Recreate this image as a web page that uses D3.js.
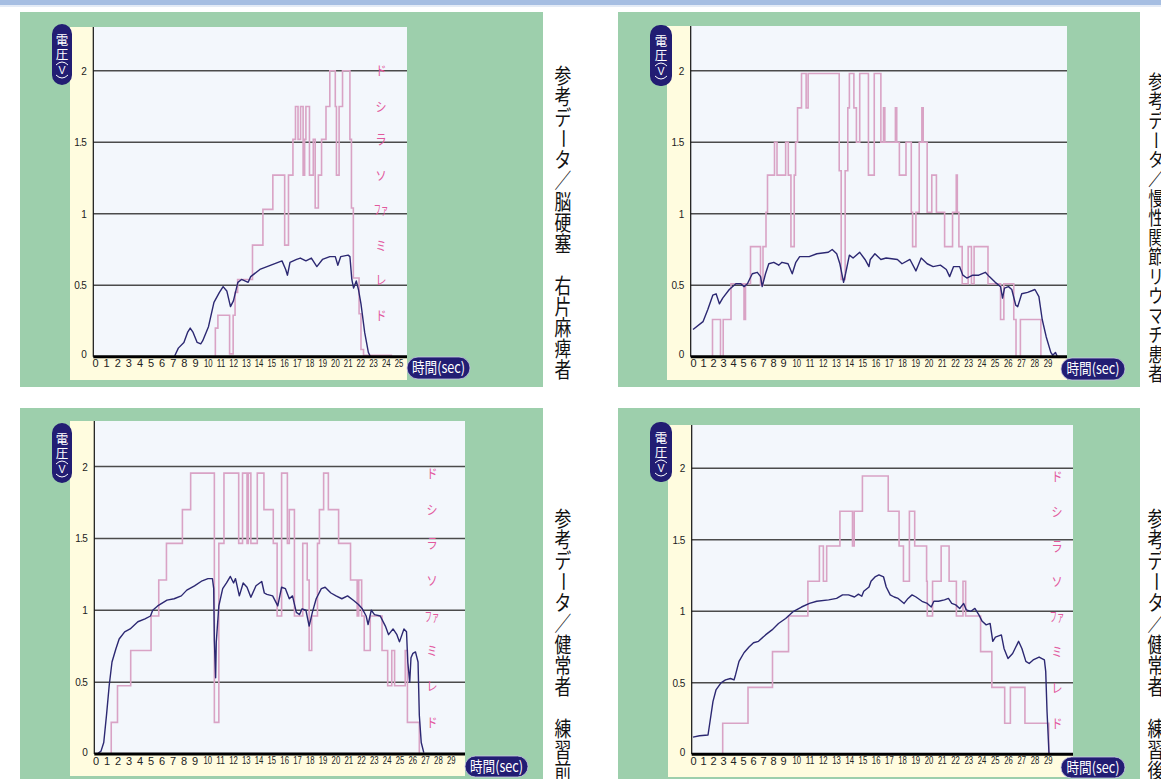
<!DOCTYPE html>
<html>
<head>
<meta charset="utf-8">
<title>参考データ 電圧</title>
<script src="https://cdn.jsdelivr.net/npm/d3@7"></script>
<style>
  body { margin: 0; background: #fff; }
  svg { display: block; }
</style>
</head>
<body>
<script>
var width = 1161, height = 779;

// ---- data ----
var yTicks = [0, 0.5, 1, 1.5, 2];
var secTicks25 = [0,1,2,3,4,5,6,7,8,9,10,11,12,13,14,15,16,17,18,19,20,21,22,23,24,25];
var secTicks29 = [0,1,2,3,4,5,6,7,8,9,10,11,12,13,14,15,16,17,18,19,20,21,22,23,24,25,26,27,28,29];
var noteNames = ["ド", "レ", "ミ", "ファ", "ソ", "ラ", "シ", "ド"];
var titles = [
  "参考データ／脳硬塞　右片麻痺者",
  "参考データ／慢性関節リウマチ患者",
  "参考データ／健常者　練習前",
  "参考データ／健常者　練習後"
];

// note levels (V) for the pink step trace
var levels1 = [0.29, 0.54, 0.78, 1.03, 1.27, 1.52, 1.75, 2.0];
var levels3 = [0.22, 0.475, 0.72, 0.96, 1.21, 1.465, 1.70, 1.954];
var levels4 = [0.217, 0.468, 0.718, 0.967, 1.21, 1.457, 1.70, 1.946];

// [sec, volt] measured voltage
var blue1 = [[7.17,0.005],[7.5,0.06],[8.0,0.1],[8.33,0.17],[8.57,0.2],[8.83,0.17],[9.17,0.1],[9.45,0.09],[9.6,0.11],
  [10.06,0.21],[10.49,0.38],[10.92,0.45],[11.21,0.49],[11.5,0.46],[11.79,0.35],[12.02,0.39],[12.37,0.52],[12.66,0.54],
  [13.18,0.52],[13.38,0.56],[14.1,0.61],[14.97,0.64],[15.84,0.67],[16.13,0.61],[16.27,0.57],[16.47,0.66],[16.99,0.68],
  [17.28,0.69],[17.72,0.67],[18.15,0.69],[18.58,0.63],[19.02,0.68],[19.6,0.70],[20.03,0.70],[20.23,0.64],[20.46,0.70],
  [21.04,0.71],[21.18,0.70],[21.33,0.54],[21.47,0.48],[21.68,0.53],[21.85,0.47],[22.05,0.37],[22.34,0.17],[22.63,0.03],[22.77,0.005]];
var blue2 = [[0,0.19],[1,0.245],[1.48,0.33],[1.98,0.43],[2.31,0.44],[2.64,0.37],[2.97,0.41],[3.63,0.47],[4.29,0.51],[4.78,0.51],
  [5.11,0.49],[5.44,0.51],[5.93,0.58],[6.43,0.59],[6.76,0.56],[6.92,0.49],[7.25,0.58],[7.58,0.65],[8.08,0.66],[8.57,0.64],
  [8.9,0.66],[9.38,0.65],[9.7,0.58],[9.97,0.66],[10.26,0.70],[10.98,0.70],[11.56,0.72],[12.43,0.73],[12.72,0.75],[13.06,0.72],
  [13.3,0.65],[13.58,0.52],[13.73,0.58],[14.02,0.71],[14.3,0.69],[14.8,0.73],[15.2,0.68],[15.5,0.63],[15.6,0.68],[15.95,0.72],
  [16.4,0.68],[16.8,0.69],[17.65,0.68],[18.0,0.65],[18.6,0.68],[19.05,0.60],[19.45,0.69],[19.9,0.65],[20.35,0.63],[20.9,0.64],
  [21.35,0.61],[21.6,0.56],[21.9,0.63],[22.35,0.63],[22.6,0.57],[22.9,0.55],[23.35,0.57],[23.8,0.57],[24.3,0.59],[24.6,0.56],
  [25.05,0.52],[25.45,0.49],[25.6,0.41],[25.75,0.48],[26.05,0.49],[26.3,0.47],[26.6,0.36],[26.75,0.35],[27.05,0.44],[27.5,0.45],
  [28.05,0.47],[28.35,0.42],[28.6,0.26],[28.9,0.14],[29.25,0.03],[29.4,0.01],[29.6,0.03],[29.75,0]];
var blue3 = [[0.15,0],[0.5,0.02],[0.75,0.08],[1.0,0.27],[1.25,0.48],[1.5,0.64],[1.85,0.73],[2.15,0.80],[2.65,0.85],[3.15,0.87],
  [3.85,0.92],[4.5,0.94],[5.0,0.96],[5.2,1.0],[5.65,1.03],[6.5,1.07],[7.15,1.08],[7.8,1.10],[8.3,1.14],[9.0,1.17],[9.6,1.205],
  [10.05,1.22],[10.4,1.22],[10.5,1.15],[10.55,0.79],[10.65,0.53],[10.7,0.78],[10.9,1.03],[11.2,1.15],[11.5,1.19],[11.8,1.235],
  [12.05,1.19],[12.2,1.22],[12.5,1.10],[12.8,1.19],[13.1,1.16],[13.4,1.09],[13.8,1.17],[14.25,1.20],[14.45,1.12],[14.65,1.11],
  [15.1,1.10],[15.5,1.03],[15.8,1.16],[16.1,1.15],[16.4,1.08],[16.65,1.10],[16.95,0.985],[17.2,0.97],[17.4,1.01],[17.7,1.0],
  [17.95,0.89],[18.2,0.985],[18.5,1.08],[18.9,1.15],[19.2,1.16],[19.65,1.12],[20.05,1.10],[20.5,1.08],[20.95,1.10],[21.4,1.07],
  [21.8,1.04],[22.1,1.01],[22.4,0.96],[22.55,0.90],[22.8,1.0],[23.05,0.97],[23.5,0.96],[23.9,0.89],[24.15,0.83],[24.5,0.87],
  [24.8,0.83],[25.0,0.78],[25.35,0.87],[25.55,0.85],[25.65,0.64],[25.8,0.50],[25.9,0.67],[26.05,0.70],[26.25,0.71],[26.45,0.64],
  [26.55,0.27],[26.7,0.08],[26.9,0.01]];
var blue4 = [[0,0.12],[0.65,0.13],[1.5,0.135],[1.65,0.205],[2.0,0.37],[2.3,0.45],[2.8,0.50],[3.25,0.52],[3.75,0.53],[4.1,0.52],
  [4.25,0.555],[4.6,0.65],[5.1,0.71],[5.6,0.75],[6.05,0.78],[6.55,0.79],[7.25,0.835],[7.9,0.87],[8.55,0.915],[9.2,0.95],
  [9.8,1.0],[10.4,1.03],[11.0,1.055],[11.55,1.07],[12.45,1.08],[13.05,1.09],[13.5,1.115],[13.95,1.115],[14.4,1.10],[14.7,1.12],
  [14.95,1.105],[15.1,1.14],[15.5,1.17],[15.65,1.21],[15.95,1.24],[16.25,1.255],[16.6,1.24],[16.8,1.17],[17.1,1.115],[17.4,1.10],
  [17.7,1.09],[18.15,1.055],[18.45,1.09],[18.75,1.115],[19.05,1.10],[19.5,1.07],[19.9,1.055],[20.2,1.03],[20.4,1.07],[20.75,1.07],
  [21.2,1.08],[21.5,1.09],[21.75,1.055],[22.05,1.045],[22.35,1.02],[22.65,1.055],[22.85,1.01],[23.2,1.0],[23.5,1.02],[23.8,0.975],
  [24.05,0.93],[24.35,0.905],[24.65,0.915],[24.85,0.79],[25.05,0.82],[25.5,0.835],[25.7,0.74],[26.0,0.67],[26.35,0.705],[26.8,0.79],
  [27.05,0.74],[27.35,0.65],[27.6,0.635],[27.9,0.66],[28.35,0.68],[28.75,0.66],[28.85,0.58],[28.95,0.30],[29.1,0]];

// [sec, volt] pink note trace, value held until the next entry
var pink1 = [[10.45,0],[10.6,0.2],[10.8,0.29],[11.72,0.02],[12.0,0.29],[12.15,0.45],[12.35,0.54],[13.52,0.78],[14.34,1.03],
  [15.12,1.27],[16.05,0.78],[16.35,1.27],[16.7,1.52],[16.9,1.75],[17.1,1.52],[17.3,1.75],[17.5,1.27],[17.62,1.52],[17.72,1.75],
  [18.0,1.27],[18.3,1.52],[18.45,1.04],[18.7,1.27],[18.95,1.52],[19.3,1.75],[19.6,2.0],[20.03,1.75],[20.12,1.27],[20.33,1.75],
  [20.6,2.0],[21.18,1.52],[21.3,1.04],[21.45,0.55],[21.9,0.3],[22.05,0.05],[22.25,0.01],[24.5,0.01]];
var pink2 = [[1.8,0],[1.95,0.26],[2.75,0],[3.02,0.26],[3.8,0.51],[5.1,0.26],[5.25,0.51],[5.75,0.77],[6.75,0.5],[7.0,0.77],
  [7.3,1.01],[7.45,1.27],[8.15,1.5],[8.4,1.27],[9.2,1.5],[9.4,1.27],[9.6,0.77],[9.85,1.27],[9.95,1.5],[10.1,1.74],[10.4,1.98],
  [10.75,1.74],[10.9,1.98],[13.25,1.3],[13.4,0.54],[13.7,1.3],[13.9,1.74],[14.02,1.98],[14.36,1.74],[14.55,1.5],[14.8,1.98],
  [15.46,1.27],[15.9,1.98],[16.4,1.5],[16.6,1.74],[16.7,1.5],[17.5,1.74],[17.6,1.5],[17.8,1.27],[18.3,1.5],[18.7,1.01],[18.8,0.77],
  [19.05,1.01],[19.3,1.5],[19.5,1.74],[19.6,1.5],[19.9,1.01],[20.25,1.27],[20.6,1.01],[21.22,0.77],[21.82,1.01],[22.1,1.27],
  [22.18,1.01],[22.3,0.77],[22.55,0.51],[23.0,0.77],[23.25,0.51],[23.45,0.77],[24.5,0.51],[25.45,0.26],[25.7,0.51],[26.45,0.26],
  [26.62,0],[26.95,0.26],[28.5,0],[29.2,0]];
var pink3 = [[1.17,0],[1.43,0.22],[2.0,0.475],[3.2,0.72],[5.05,0.96],[5.75,1.21],[6.45,1.465],[7.9,1.70],[8.65,1.954],[10.55,0.22],
  [10.9,1.465],[11.3,1.954],[12.45,1.465],[12.75,1.954],[13.1,1.465],[13.2,1.954],[13.4,1.465],[13.9,1.954],[14.42,1.70],
  [15.15,1.465],[15.45,0.96],[15.8,1.954],[16.25,1.465],[16.4,1.70],[16.8,0.96],[17.45,1.465],[17.8,1.21],[17.95,0.72],[18.15,0.96],
  [18.6,1.465],[18.75,1.70],[19.08,1.954],[19.45,1.70],[20.25,1.465],[21.18,1.21],[21.7,0.96],[21.82,1.21],[22.05,0.96],[22.25,0.72],
  [22.72,0.96],[23.64,0.72],[24.08,0.475],[24.4,0.72],[24.62,0.475],[25.45,0.72],[25.62,0.22],[26.55,0],[27.5,0]];
var pink4 = [[2.9,0],[2.97,0.217],[5.5,0.468],[7.95,0.718],[9.42,0.967],[10.88,1.21],[11.75,1.457],[12.05,1.21],[12.3,1.457],
  [13.3,1.70],[14.25,1.457],[14.38,1.70],[15.0,1.946],[16.95,1.70],[17.77,1.457],[18.1,1.21],[18.55,1.70],[18.95,1.457],
  [19.85,1.21],[19.9,0.967],[20.3,1.21],[20.95,1.457],[21.55,1.21],[22.1,0.967],[22.6,1.21],[22.8,0.967],[23.93,0.718],
  [24.78,0.468],[25.75,0.217],[26.18,0.468],[27.28,0.217],[29.08,0],[29.2,0]];

// ---- layout ----
var svg = d3.select("body").append("svg")
    .attr("width", width)
    .attr("height", height);

svg.append("rect").attr("x", 0).attr("y", 0).attr("width", width).attr("height", 5).attr("fill", "#a6bee2");
svg.append("rect").attr("x", 0).attr("y", 5).attr("width", width).attr("height", 2).attr("fill", "#e4ebf6");

var panels = [
  {green: [20, 12, 543, 387], cream: [70, 27, 407, 380], x0: 93.3, x1: 407, top: 27, yZero: 356.7, yTwo: 70.7,
   lab: [95, 195, 398.5], ticks: secTicks25, blue: blue1, pink: pink1, levels: levels1, noteX: 381,
   yPill: [52, 24, 72, 85], tPill: [407, 357, 470, 379], title: titles[0], titleX: 563, titleY: 65, titleSize: 21},
  {green: [618, 12, 1140, 387], cream: [667, 26, 1067, 380], x0: 690.7, x1: 1067, top: 26, yZero: 356.7, yTwo: 70.7,
   lab: [693, 783, 1047.5], ticks: secTicks29, blue: blue2, pink: pink2, levels: null, noteX: 0,
   yPill: [650, 25, 672, 86], tPill: [1061, 358, 1125, 380], title: titles[1], titleX: 1156, titleY: 72, titleSize: 19.5},
  {green: [20, 408, 543, 800], cream: [70, 421, 465, 776], x0: 94.3, x1: 465, top: 421, yZero: 754, yTwo: 466.5,
   lab: [95.5, 194.5, 450.7], ticks: secTicks29, blue: blue3, pink: pink3, levels: levels3, noteX: 432,
   yPill: [52, 423, 72, 483], tPill: [465, 756, 528, 777], title: titles[2], titleX: 563, titleY: 508, titleSize: 21},
  {green: [618, 408, 1140, 800], cream: [668, 425, 1073, 777], x0: 691.7, x1: 1073, top: 425, yZero: 754.3, yTwo: 468.3,
   lab: [693, 783, 1047.7], ticks: secTicks29, blue: blue4, pink: pink4, levels: levels4, noteX: 1057,
   yPill: [650, 422, 672, 482], tPill: [1061, 757, 1125, 778], title: titles[3], titleX: 1156, titleY: 508, titleSize: 21}
];

panels.forEach(drawPanel);

function rectOf(g, r, fill) {
  return g.append("rect").attr("x", r[0]).attr("y", r[1])
    .attr("width", r[2] - r[0]).attr("height", r[3] - r[1]).attr("fill", fill);
}

function drawPanel(p) {
  var g = svg.append("g");
  var tMax = p.ticks[p.ticks.length - 1];
  var x = d3.scaleLinear().domain([0, 9, tMax]).range(p.lab);
  var y = d3.scaleLinear().domain([0, 2]).range([p.yZero, p.yTwo]);

  rectOf(g, p.green, "#9dcfac");
  rectOf(g, p.cream, "#fffcdf");
  rectOf(g, [p.x0, p.top, p.x1, p.yZero], "#f3f7fc");

  // grid
  g.selectAll("line.grid").data(yTicks.filter(function(d) { return d > 0; }))
    .enter().append("line").attr("class", "grid")
    .attr("x1", p.x0).attr("x2", p.x1)
    .attr("y1", function(d) { return y(d); }).attr("y2", function(d) { return y(d); })
    .attr("stroke", "#4b4b4b").attr("stroke-width", 1.5);

  g.append("line").attr("x1", p.x0).attr("x2", p.x0).attr("y1", p.top).attr("y2", p.yZero)
    .attr("stroke", "#111").attr("stroke-width", 1.2);

  var line = d3.line().x(function(d) { return x(d[0]); }).y(function(d) { return y(d[1]); });

  g.append("path").datum(p.pink)
    .attr("d", line.curve(d3.curveStepAfter))
    .attr("fill", "none").attr("stroke", "#d9a3c5").attr("stroke-width", 1.6);

  g.append("path").datum(p.blue)
    .attr("d", line.curve(d3.curveLinear))
    .attr("fill", "none").attr("stroke", "#2c2872").attr("stroke-width", 1.4)
    .attr("stroke-linejoin", "round");

  g.append("line").attr("x1", p.x0).attr("x2", p.x1).attr("y1", p.yZero).attr("y2", p.yZero)
    .attr("stroke", "#000").attr("stroke-width", 3);

  // y ticks
  var yAxis = g.append("g").attr("transform", "translate(" + p.x0 + ",0)")
    .call(d3.axisLeft(y).tickValues(yTicks).tickSize(0).tickPadding(7).tickFormat(d3.format("")));
  yAxis.select(".domain").remove();
  yAxis.selectAll("text").attr("font-family", "Liberation Sans, Arial, sans-serif")
    .attr("font-size", 10).attr("fill", "#222").attr("letter-spacing", -0.6)
    .attr("dy", function(d) { return d === 0 ? "0.1em" : "0.35em"; });

  // x ticks
  var xAxis = g.append("g").attr("transform", "translate(0," + p.yZero + ")")
    .call(d3.axisBottom(x).tickValues(p.ticks).tickSize(0).tickPadding(3));
  xAxis.select(".domain").remove();
  xAxis.selectAll("text").attr("font-family", "Liberation Sans, Arial, sans-serif")
    .attr("font-size", function(d) { return d < 10 ? 11 : 10; })
    .attr("fill", "#222")
    .attr("textLength", function(d) { return d < 10 ? null : 8.6; })
    .attr("lengthAdjust", "spacingAndGlyphs");

  // y label pill
  var yp = p.yPill, cx = (yp[0] + yp[2]) / 2;
  g.append("rect").attr("x", yp[0]).attr("y", yp[1]).attr("width", yp[2] - yp[0]).attr("height", yp[3] - yp[1])
    .attr("rx", 10).attr("fill", "#221d73");
  var pillText = g.append("g").attr("fill", "#fff").attr("font-family", "Noto Sans CJK JP")
    .attr("text-anchor", "middle");
  pillText.append("text").attr("x", cx).attr("y", yp[1] + 16).attr("dy", "0.36em").attr("font-size", 12.5).text("電");
  pillText.append("text").attr("x", cx).attr("y", yp[1] + 30).attr("dy", "0.36em").attr("font-size", 12.5).text("圧");
  pillText.append("text").attr("x", cx).attr("y", yp[1] + 46).attr("dy", "0.36em")
    .attr("font-family", "Liberation Sans, Arial").attr("font-size", 10.5).text("V");
  g.append("path").attr("d", "M" + (cx - 6) + "," + (yp[1] + 41) + "Q" + cx + "," + (yp[1] + 35) + " " + (cx + 6) + "," + (yp[1] + 41))
    .attr("fill", "none").attr("stroke", "#fff").attr("stroke-width", 1);
  g.append("path").attr("d", "M" + (cx - 6) + "," + (yp[1] + 51) + "Q" + cx + "," + (yp[1] + 57) + " " + (cx + 6) + "," + (yp[1] + 51))
    .attr("fill", "none").attr("stroke", "#fff").attr("stroke-width", 1);

  // time pill
  var tp = p.tPill;
  g.append("rect").attr("x", tp[0]).attr("y", tp[1]).attr("width", tp[2] - tp[0]).attr("height", tp[3] - tp[1])
    .attr("rx", (tp[3] - tp[1]) / 2).attr("fill", "#221d73").attr("stroke", "#c9c6e4").attr("stroke-width", 0.8);
  g.append("text").attr("x", (tp[0] + tp[2]) / 2).attr("y", (tp[1] + tp[3]) / 2).attr("dy", "0.36em")
    .attr("text-anchor", "middle").attr("fill", "#fff").attr("font-family", "Noto Sans CJK JP")
    .attr("font-size", 15).attr("textLength", 53).attr("lengthAdjust", "spacingAndGlyphs").text("時間(sec)");

  // note names
  if (p.levels) {
    g.selectAll("text.note").data(p.levels).enter().append("text").attr("class", "note")
      .attr("transform", function(d) { return "translate(" + p.noteX + "," + y(d) + ") scale(0.85,1)"; })
      .attr("dy", "0.36em").attr("text-anchor", "middle")
      .attr("fill", "#e2589d").attr("font-family", "Noto Sans CJK JP").attr("font-size", 13)
      .attr("textLength", function(d, i) { return noteNames[i].length > 1 ? 17 : null; })
      .attr("lengthAdjust", "spacingAndGlyphs")
      .text(function(d, i) { return noteNames[i]; });
  }

  // vertical title
  var chars = Array.from(p.title);
  g.selectAll("text.title").data(chars).enter().append("text").attr("class", "title")
    .attr("transform", function(d, i) {
      var cy = p.titleY + i * p.titleSize + p.titleSize / 2;
      return "translate(" + p.titleX + "," + cy + ")" + (d === "ー" ? " rotate(90) scale(1,0.8)" : " scale(0.8,1)");
    })
    .attr("dy", "0.36em").attr("text-anchor", "middle")
    .attr("fill", "#111").attr("font-family", "Noto Sans CJK JP").attr("font-size", p.titleSize)
    .text(function(d) { return d; });
}
</script>
</body>
</html>
